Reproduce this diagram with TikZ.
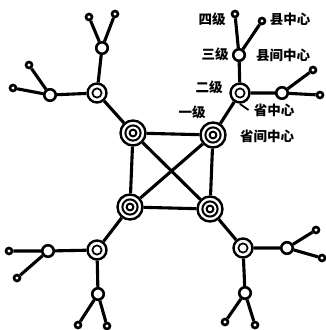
\documentclass[tikz,border=0pt]{standalone}
\usepackage{fontspec}
\newfontfamily\cjk{Noto Sans CJK SC}
\begin{document}
\begin{tikzpicture}[x=1pt,y=-1pt,
  edge/.style={line width=3.1pt},
  lvA/.style={circle,draw,line width=2.4pt,fill=white,minimum size=25pt,inner sep=0pt,
    path picture={\draw[line width=2pt] (path picture bounding box.center) circle (7.6pt) circle (3.4pt);}},
  lvB/.style={circle,draw,line width=2.4pt,fill=white,minimum size=19pt,inner sep=0pt,
    path picture={\draw[line width=1.7pt] (path picture bounding box.center) circle (4.6pt);}},
  lvC/.style={circle,draw,line width=2.6pt,fill=white,minimum size=11.5pt,inner sep=0pt},
  leaf/.style={circle,draw,line width=2.6pt,fill=white,minimum size=6pt,inner sep=0pt},
  lbl/.style={font=\cjk\bfseries\fontsize{13.5}{14}\selectfont,inner sep=0pt}
]
\useasboundingbox[fill=white] (0,0) rectangle (326,330);
% level 1
\node[lvA] (a1) at (133,133) {};
\node[lvA] (a2) at (213,135) {};
\node[lvA] (a3) at (130,207) {};
\node[lvA] (a4) at (210,209) {};
% level 2
\node[lvB] (b1) at (97,93) {};
\node[lvB] (b2) at (240,93) {};
\node[lvB] (b3) at (97,250) {};
\node[lvB] (b4) at (243,248) {};
% level 3
\node[lvC] (c1a) at (102,48) {};
\node[lvC] (c1b) at (50,95) {};
\node[lvC] (c2a) at (239,55) {};
\node[lvC] (c2b) at (282,93) {};
\node[lvC] (c3a) at (48,251) {};
\node[lvC] (c3b) at (98,294) {};
\node[lvC] (c4a) at (287,248) {};
\node[lvC] (c4b) at (245,293) {};
% leaves
\node[leaf] (d1) at (89,17) {};
\node[leaf] (d2) at (115,14) {};
\node[leaf] (d3) at (29,65) {};
\node[leaf] (d4) at (13,88) {};
\node[leaf] (d5) at (235,14) {};
\node[leaf] (d6) at (262,21) {};
\node[leaf] (d7) at (313,70) {};
\node[leaf] (d8) at (320,95) {};
\node[leaf] (d9) at (9,251) {};
\node[leaf] (d10) at (17,278) {};
\node[leaf] (d11) at (78,325) {};
\node[leaf] (d12) at (107,326) {};
\node[leaf] (d13) at (316,230) {};
\node[leaf] (d14) at (322,258) {};
\node[leaf] (d15) at (225,322) {};
\node[leaf] (d16) at (255,325) {};
% edges
\draw[edge] (a1)--(a2) (a1)--(a3) (a2)--(a4) (a3)--(a4) (a1)--(a4) (a2)--(a3);
\draw[edge] (a1)--(b1) (a2)--(b2) (a3)--(b3) (a4)--(b4);
\draw[edge] (b1)--(c1a) (b1)--(c1b) (b2)--(c2a) (b2)--(c2b)
            (b3)--(c3a) (b3)--(c3b) (b4)--(c4a) (b4)--(c4b);
\draw[edge] (c1a)--(d1) (c1a)--(d2) (c1b)--(d3) (c1b)--(d4)
            (c2a)--(d5) (c2a)--(d6) (c2b)--(d7) (c2b)--(d8)
            (c3a)--(d9) (c3a)--(d10) (c3b)--(d11) (c3b)--(d12)
            (c4a)--(d13) (c4a)--(d14) (c4b)--(d15) (c4b)--(d16);
% labels
\node[lbl] (t4) at (212,19) {四级};
\node[lbl] (n4) at (290,19) {县中心};
\node[lbl] (t3) at (215,54) {三级};
\node[lbl] (n3) at (283,55) {县间中心};
\node[lbl] (t2) at (209,87) {二级};
\node[lbl] (n2) at (274,110) {省中心};
\node[lbl] (t1) at (192,112) {一级};
\node[lbl] (n1) at (267,136) {省间中心};
\coordinate (tk) at (240,104);
\draw[line width=1.8pt] (tk) -- ([xshift=-5pt]n2.west);
\end{tikzpicture}
\end{document}
